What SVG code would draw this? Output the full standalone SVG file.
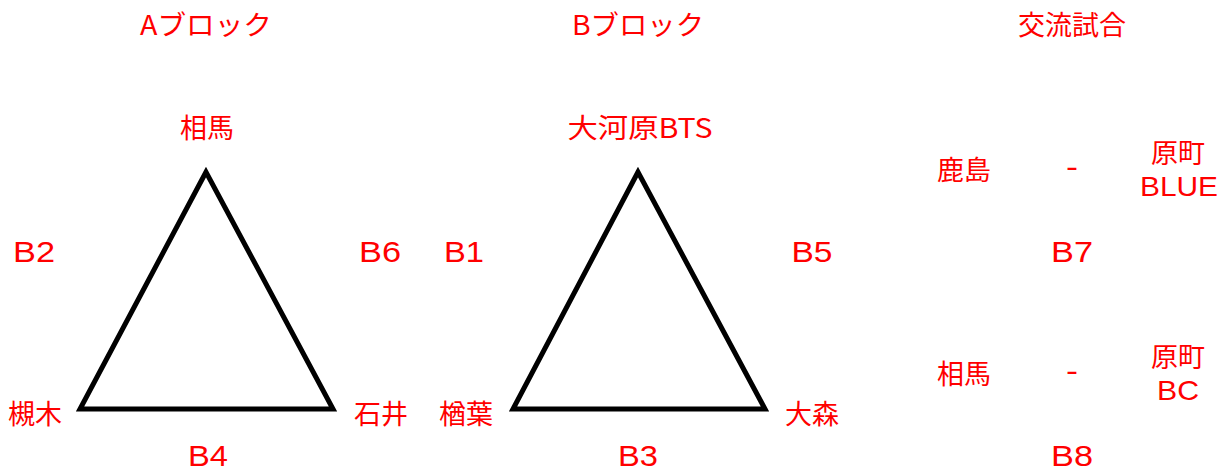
<svg xmlns="http://www.w3.org/2000/svg" width="1229" height="473" viewBox="0 0 1229 473">
<style>
text{font-family:"Noto Sans CJK JP","Liberation Sans",sans-serif;font-size:27px;fill:#ff0000;text-anchor:middle}
.lat{font-family:"Liberation Sans","Noto Sans CJK JP",sans-serif;font-size:30px}
.sm{font-size:28px}
.tri{fill:none;stroke:#000;stroke-width:5;stroke-linejoin:miter}
</style>
<rect width="1229" height="473" fill="#fff"/>
<g id="titles">
<text x="206" y="35" textLength="132" lengthAdjust="spacingAndGlyphs">Aブロック</text>
<text x="638" y="35" textLength="132" lengthAdjust="spacingAndGlyphs">Bブロック</text>
<text x="1072" y="35" textLength="108" lengthAdjust="spacingAndGlyphs">交流試合</text>
</g>
<g id="connectors">
<polygon class="tri" points="206,172 80,409 333,409"/>
<polygon class="tri" points="638,172 513,409 765,409"/>
</g>
<g id="node-soma-a"><text x="207" y="138">相馬</text></g>
<g id="node-tsukinoki"><text x="35" y="424">槻木</text></g>
<g id="node-ishii"><text x="381" y="424">石井</text></g>
<g id="label-b2"><text class="lat" x="34" y="262" textLength="42" lengthAdjust="spacingAndGlyphs">B2</text></g>
<g id="label-b6"><text class="lat" x="380" y="262" textLength="42" lengthAdjust="spacingAndGlyphs">B6</text></g>
<g id="label-b4"><text class="lat" x="208" y="466" textLength="40" lengthAdjust="spacingAndGlyphs">B4</text></g>
<g id="node-okawara"><text x="640" y="138" textLength="145" lengthAdjust="spacingAndGlyphs">大河原BTS</text></g>
<g id="node-naraha"><text x="466" y="424">楢葉</text></g>
<g id="node-omori"><text x="812" y="424">大森</text></g>
<g id="label-b1"><text class="lat" x="464" y="262" textLength="40" lengthAdjust="spacingAndGlyphs">B1</text></g>
<g id="label-b5"><text class="lat" x="812" y="262" textLength="41" lengthAdjust="spacingAndGlyphs">B5</text></g>
<g id="label-b3"><text class="lat" x="638" y="466" textLength="40" lengthAdjust="spacingAndGlyphs">B3</text></g>
<g id="match-b7">
<text x="964" y="180">鹿島</text>
<text class="lat" x="1072" y="177" textLength="12" lengthAdjust="spacingAndGlyphs">-</text>
<text x="1178" y="163">原町</text>
<text class="lat sm" x="1179" y="196" textLength="78" lengthAdjust="spacingAndGlyphs">BLUE</text>
<text class="lat" x="1072" y="262" textLength="42" lengthAdjust="spacingAndGlyphs">B7</text>
</g>
<g id="match-b8">
<text x="964" y="384">相馬</text>
<text class="lat" x="1072" y="381" textLength="12" lengthAdjust="spacingAndGlyphs">-</text>
<text x="1178" y="367">原町</text>
<text class="lat sm" x="1178" y="400" textLength="42" lengthAdjust="spacingAndGlyphs">BC</text>
<text class="lat" x="1072" y="466" textLength="42" lengthAdjust="spacingAndGlyphs">B8</text>
</g>
</svg>
